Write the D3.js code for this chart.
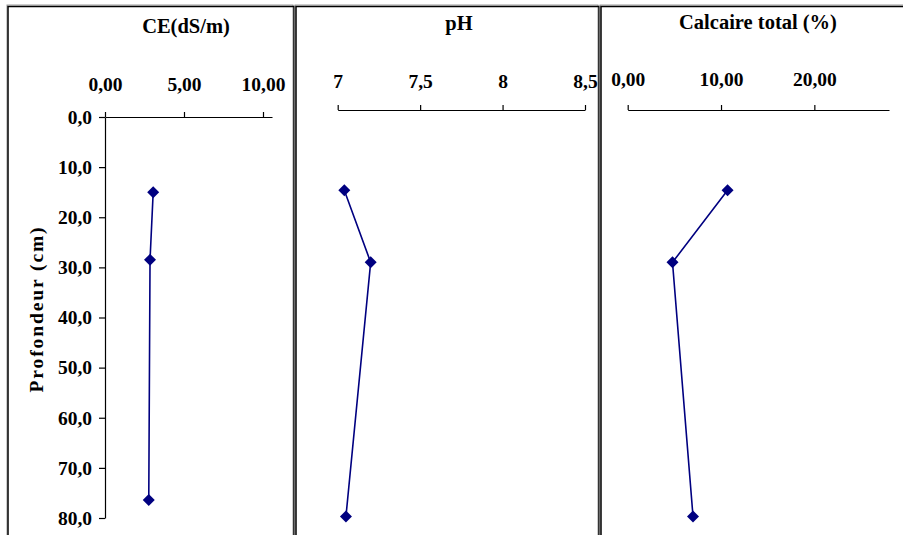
<!DOCTYPE html>
<html><head><meta charset="utf-8">
<script src="https://cdn.jsdelivr.net/npm/d3@7"></script>
<style>
body{margin:0;background:#fff;}
svg{display:block;}
text{font-family:"Liberation Serif","Times New Roman",serif;font-weight:bold;fill:#000;}
</style></head><body>
<svg id="c" width="903" height="535"></svg>
<script>
// ---- data ----
const depthCE = [15.0, 28.5, 76.4];
const valuesCE = [3.05, 2.85, 2.77];
const depthPH = [14.6, 29.0, 79.7];
const valuesPH = [7.04, 7.20, 7.05];
const depthCalc = [14.6, 29.0, 79.7];
const valuesCalc = [10.7, 4.8, 7.0];
const depthTicks = [0, 10, 20, 30, 40, 50, 60, 70, 80];
const ceTicks = [0, 5, 10];
const phTicks = [7, 7.5, 8, 8.5];
const calcTicks = [0, 10, 20];
const titles = ["CE(dS/m)", "pH", "Calcaire total (%)"];
const yTitle = "Profondeur (cm)";

const svg = d3.select("#c");
const comma = (n, d) => n.toFixed(d).replace(".", ",");

// panel frames
const frames = [[8, 294], [296, 599], [601, 912]];
frames.forEach(([x0, x1]) => {
  svg.append("rect").attr("x", x0 - 1).attr("y", 5).attr("width", x1 - x0).attr("height", 540)
    .attr("fill", "none").attr("stroke", "#999").attr("stroke-width", 1);
  svg.append("rect").attr("x", x0).attr("y", 6.5).attr("width", x1 - x0).attr("height", 540)
    .attr("fill", "none").attr("stroke", "#000").attr("stroke-width", 1.5);
});

const y = d3.scaleLinear().domain([0, 80]).range([117, 518]);

function panel(cfg) {
  const x = d3.scaleLinear().domain(cfg.domain).range(cfg.range);
  const ax = d3.axisTop(x).tickValues(cfg.ticks).tickSize(5).tickSizeOuter(0)
    .tickPadding(cfg.pad).tickFormat(cfg.fmt);
  const g = svg.append("g").attr("transform", `translate(0,${cfg.axisY})`).call(ax);
  g.select(".domain").attr("stroke", "#000").attr("stroke-width", 1.2);
  g.selectAll(".tick line").attr("stroke", "#000").attr("stroke-width", 1.2);
  g.selectAll(".tick text").style("font-size", "19.5px").style("font-family", "Liberation Serif").style("font-weight", "bold").attr("fill", "#000");
  const pts = cfg.vals.map((v, i) => [x(v), y(cfg.depth[i])]);
  svg.append("path").attr("d", d3.line()(pts)).attr("fill", "none")
    .attr("stroke", "#000080").attr("stroke-width", 1.6);
  svg.selectAll(null).data(pts).enter().append("path")
    .attr("d", d3.symbol(d3.symbolSquare, 72)())
    .attr("transform", d => `translate(${d[0]},${d[1]}) rotate(45)`)
    .attr("fill", "#000080");
  svg.append("text").attr("x", cfg.tx).attr("y", cfg.ty).attr("text-anchor", "middle")
    .style("font-size", "20.5px").text(cfg.title);
}

// y axis (panel 1)
const gy = svg.append("g").attr("transform", "translate(105,0)")
  .call(d3.axisLeft(y).tickValues(depthTicks).tickSize(6).tickSizeOuter(0).tickPadding(7)
    .tickFormat(d => comma(d, 1)));
gy.select(".domain").attr("stroke", "#000").attr("stroke-width", 1.2);
gy.selectAll(".tick line").attr("stroke", "#000").attr("stroke-width", 1.2);
gy.selectAll(".tick text").style("font-size", "19.5px").style("font-family", "Liberation Serif").style("font-weight", "bold").attr("fill", "#000");

svg.append("text").attr("transform", "translate(43,309) rotate(-90)")
  .attr("text-anchor", "middle").style("font-size", "19.5px").style("letter-spacing", "1.9px")
  .text(yTitle);

panel({domain: [0, 10.57], range: [105, 272], ticks: ceTicks, fmt: d => comma(d, 2),
  axisY: 117, pad: 21, vals: valuesCE, depth: depthCE, title: titles[0], tx: 186, ty: 33});
panel({domain: [7, 8.5], range: [337.7, 585], ticks: phTicks, fmt: d => (Number.isInteger(d) ? String(d) : comma(d, 1)),
  axisY: 110, pad: 17, vals: valuesPH, depth: depthPH, title: titles[1], tx: 459, ty: 30});
panel({domain: [0, 28], range: [627.7, 889], ticks: calcTicks, fmt: d => comma(d, 2),
  axisY: 110, pad: 19, vals: valuesCalc, depth: depthCalc, title: titles[2], tx: 758, ty: 29});
</script></body></html>
